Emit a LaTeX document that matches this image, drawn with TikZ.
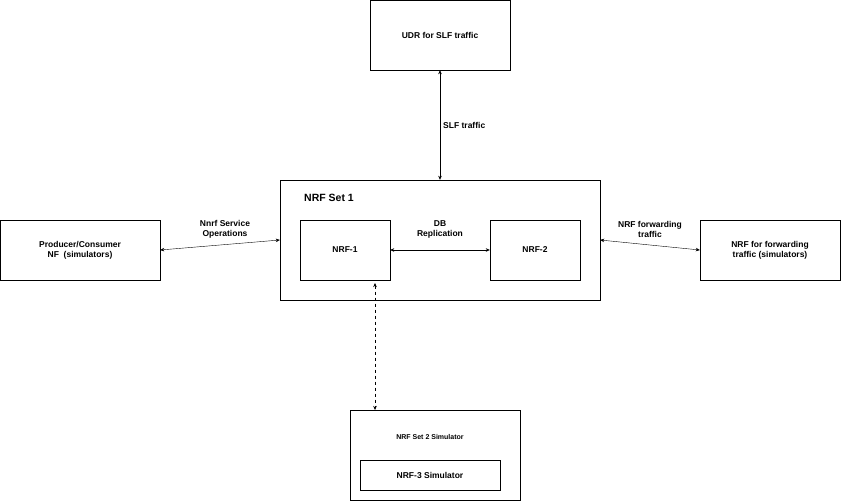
\documentclass[tikz,border=0pt]{standalone}
\usepackage{fontspec}
\setmainfont{Liberation Sans}
\usetikzlibrary{arrows.meta, positioning}
\begin{document}
\begin{tikzpicture}[x=1pt, y=-1pt, font=\bfseries\fontsize{8.5}{10}\selectfont,
    box/.style={rectangle, draw, inner sep=0pt, align=center},
    link/.style={{Stealth[length=4pt,width=3.5pt]}-{Stealth[length=4pt,width=3.5pt]}, thin},
    lbl/.style={align=center, fill=white, inner sep=1pt}]
  \useasboundingbox (0,0) rectangle (841,501);
  \node[box, minimum width=140pt, minimum height=70pt] (udr) at (440,35) {UDR for SLF traffic};
  \node[box, minimum width=320pt, minimum height=120pt] (set1) at (440,240) {};
  \node[font=\bfseries\fontsize{10.5}{12}\selectfont] (set1lbl) at (329,198) {NRF Set 1};
  \node[box, minimum width=90pt, minimum height=60pt] (nrf1) at (345,250) {NRF-1};
  \node[box, minimum width=90pt, minimum height=60pt] (nrf2) at (535,250) {NRF-2};
  \node[box, minimum width=160pt, minimum height=60pt] (prod) at (80,250) {Producer/Consumer\\NF\ \ (simulators)};
  \node[box, minimum width=140pt, minimum height=60pt] (fwd) at (770,250) {NRF for forwarding\\traffic (simulators)};
  \node[box, minimum width=170pt, minimum height=90pt] (set2) at (435,455) {};
  \node[font=\bfseries\fontsize{7}{8}\selectfont] (set2lbl) at (430,437) {NRF Set 2 Simulator};
  \node[box, minimum width=140pt, minimum height=30pt] (nrf3) at (430,475) {NRF-3 Simulator};
  \coordinate (d1) at (375,283);
  \coordinate (d2) at (375,410);
  % connectors
  \draw[link] (udr.south) -- node[lbl, right=2pt] (slf) {SLF traffic} (set1.north);
  \draw[link] (prod.east) -- (set1.west);
  \node[lbl] (nnrf) at (225,229) {Nnrf Service\\Operations};
  \draw[link] (nrf1.east) -- (nrf2.west);
  \node[lbl] (dbrep) at (440,229) {DB\\Replication};
  \draw[link] (set1.east) -- (fwd.west);
  \node[lbl] (fwdlbl) at (650,229) {NRF forwarding\\traffic};
  \draw[link, dashed] (d1) -- (d2);
\end{tikzpicture}
\end{document}
